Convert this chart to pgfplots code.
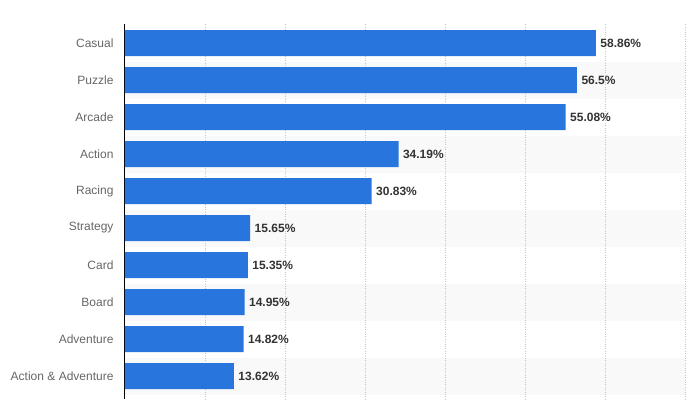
\documentclass[border=0pt]{standalone}
\usepackage{fontspec}
\setmainfont{Liberation Sans}
\usepackage{pgfplots}
\pgfplotsset{compat=1.18}
\definecolor{barblue}{HTML}{2876DD}
\definecolor{bandgray}{HTML}{F9F9F9}
\definecolor{labelgray}{HTML}{666666}
\definecolor{valgray}{HTML}{333333}
\definecolor{gridgray}{HTML}{C4C4C4}
\begin{document}
\begin{tikzpicture}
\begin{axis}[
  set layers=standard,
  at={(0pt,0pt)}, anchor=south west,
  scale only axis, width=560pt, height=374.5pt,
  xbar, bar width=26pt,
  xmin=0, xmax=70,
  ymin=-0.5, ymax=9.62, y dir=reverse,
  axis y line*=left, axis x line*=bottom,
  x axis line style={draw=none},
  y axis line style={black, line width=1pt, -},
  ytick={0,...,9},
  yticklabels={Casual,Puzzle,Arcade,Action,Racing,Strategy,Card,Board,Adventure,Action \& Adventure},
  xtick={10,20,...,70}, xticklabels={},
  major tick length=0pt,
  tick style={draw=none},
  xmajorgrids, grid style={dotted, gridgray, line width=0.8pt},
  yticklabel style={font=\fontsize{12}{14}\selectfont, text=labelgray, xshift=-8pt},
  /pgf/number format/assume math mode=true,
  nodes near coords={\pgfmathprintnumber{\pgfplotspointmeta}\%},
  nodes near coords style={font=\bfseries\fontsize{12}{14}\selectfont, text=valgray, anchor=west, xshift=1pt},
  clip=false,
]
\pgfplotsextra{%
\begin{pgfonlayer}{axis background}
\fill[bandgray] (axis cs:0,0.5) rectangle (axis cs:70,1.5);
\fill[bandgray] (axis cs:0,2.5) rectangle (axis cs:70,3.5);
\fill[bandgray] (axis cs:0,4.5) rectangle (axis cs:70,5.5);
\fill[bandgray] (axis cs:0,6.5) rectangle (axis cs:70,7.5);
\fill[bandgray] (axis cs:0,8.5) rectangle (axis cs:70,9.5);
\end{pgfonlayer}}
\addplot[fill=barblue, draw=none] coordinates {
(58.86,0) (56.5,1) (55.08,2) (34.19,3) (30.83,4) (15.65,5) (15.35,6) (14.95,7) (14.82,8) (13.62,9)
};
\end{axis}
\path (-125pt,0pt) rectangle (564pt,399pt);
\end{tikzpicture}
\end{document}
